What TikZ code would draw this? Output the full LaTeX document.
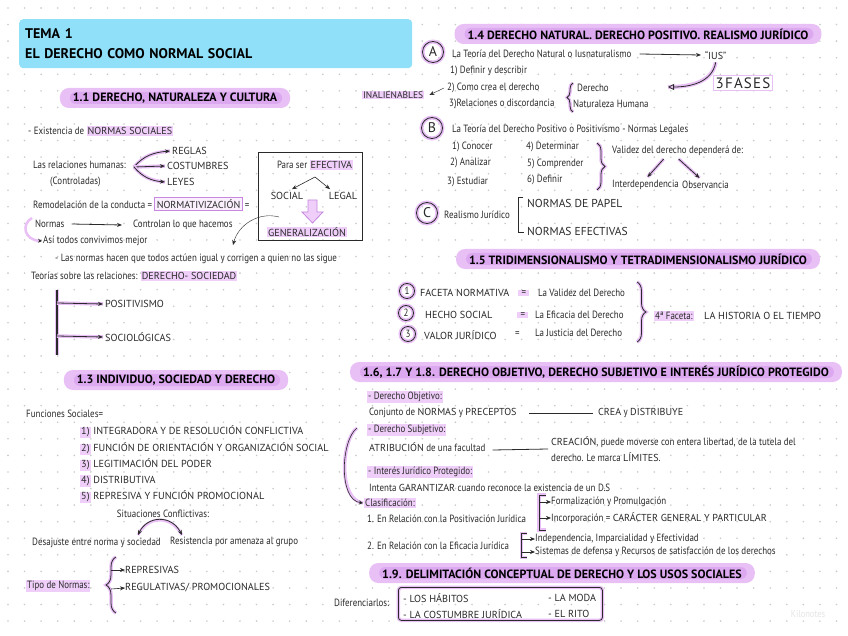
\documentclass[tikz,border=0pt]{standalone}
\usepackage{fontspec}
\setmainfont[FakeStretch=0.85]{PT Sans}
\newfontfamily\capsfont{PT Sans}
\usepackage{xcolor}
\usepackage{tikz}
\usetikzlibrary{arrows.meta,positioning,decorations.pathreplacing,calc}
\definecolor{ink}{HTML}{2A2A2A}
\definecolor{titlec}{HTML}{8FE0F8}
\definecolor{hl}{HTML}{E8C0F6}
\definecolor{hldark}{HTML}{DCA8F0}
\definecolor{hlsoft}{HTML}{EFCFF9}
\definecolor{hlpale}{HTML}{FAF0FD}
\definecolor{hlline}{HTML}{C587E0}
\definecolor{dotc}{HTML}{CACACA}
\newcommand{\fbody}{\fontsize{10.5}{12}\selectfont}
\newcommand{\fcaps}{\capsfont\fontsize{10.2}{12}\selectfont}
\newcommand{\fhead}{\capsfont\fontsize{12}{14}\selectfont\bfseries}
\newcommand{\ftitle}{\capsfont\fontsize{14}{20}\selectfont\bfseries}
\newcommand{\flett}{\capsfont\fontsize{14}{14}\selectfont}
\newcommand{\cw}[1]{{\capsfont\fontsize{10.1}{12}\selectfont #1}}
\newcommand{\hlw}[1]{\begingroup\setlength{\fboxsep}{1pt}\colorbox{hlsoft}{#1}\endgroup}
\newcommand{\boxw}[1]{\begingroup\setlength{\fboxsep}{1.5pt}\setlength{\fboxrule}{0.8pt}\fcolorbox{hlline}{hlpale}{#1}\endgroup}

\begin{document}
\begin{tikzpicture}[x=1pt,y=-1pt,font=\fbody,
  txt/.style={anchor=west,inner sep=0pt,text=ink},
  captxt/.style={txt,font=\fcaps},
  head/.style={fill=hl,rounded corners=9pt,minimum height=20pt,inner xsep=13pt,
    inner ysep=0pt,font=\fhead,text=black,
    path picture={\fill[hldark,rounded corners=6pt]
      ([xshift=10pt,yshift=-4pt]path picture bounding box.north west) rectangle
      ([xshift=-8pt,yshift=4pt]path picture bounding box.south east);}},
  arr/.style={-{Stealth[length=5pt,width=4pt]},thick,draw=ink},
  sharr/.style={arr,preaction={draw=hl,line width=3.5pt,arrows=-}},
  brc/.style={decorate,decoration={brace,amplitude=#1},thick,draw=ink,
    preaction={draw=hl,line width=3.5pt}},
  lett/.style={circle,draw=ink,thick,minimum size=21pt,inner sep=0pt,font=\flett,
    text=ink,preaction={draw=hl,line width=4pt}},
  numc/.style={lett,minimum size=15pt,font=\fbody}]

  \useasboundingbox (0,0) rectangle (848,636);
  \fill[white] (0,0) rectangle (848,636);
  % dotted paper
  \foreach \i in {0,...,50}
    \foreach \j in {0,...,37}
      {\fill[dotc] ({8+16.57*\i},{8+16.57*\j}) circle[radius=0.9pt];}

  \node (title) [fill=titlec,rounded corners=4pt,anchor=north west,minimum width=393pt,
    minimum height=49pt,text width=381pt,inner xsep=6pt,align=left,font=\ftitle,text=black]
    at (19,19) {TEMA 1\\EL DERECHO COMO NORMAL SOCIAL};

  % 1.1
  \node (h11) [head] at (175,98) {1.1 DERECHO, NATURALEZA Y CULTURA};
  \node (exist) [txt] at (28,131) {- Existencia de \hlw{\cw{NORMAS SOCIALES}}};
  \node (relh) [txt] at (33,165) {Las relaciones humanas:};
  \node (ctrl) [txt] at (50,182) {(Controladas)};
  \node (reglas) [captxt] at (172,151) {REGLAS};
  \node (costum) [captxt] at (167,166) {COSTUMBRES};
  \node (leyes) [captxt] at (167,182) {LEYES};
  \coordinate (rh) at (134,167);
  \draw[sharr] (rh) to[out=50,in=185] ([xshift=-2pt]reglas.west);
  \draw[sharr] (rh) -- ([xshift=-2pt]costum.west);
  \draw[sharr] (rh) to[out=-50,in=175] ([xshift=-2pt]leyes.west);

  \node (efbox) [draw=ink,anchor=north west,minimum width=104pt,minimum height=88pt]
    at (258,152) {};
  \node (para) [inner sep=0pt,text=ink] at (315,165) {Para ser \hlw{\cw{EFECTIVA}}};
  \node (social) [inner sep=0pt,text=ink,font=\fcaps] at (287,196) {SOCIAL};
  \node (legal) [inner sep=0pt,text=ink,font=\fcaps] at (343,196) {LEGAL};
  \coordinate (split) at (315,177);
  \draw[arr,semithick] (split) -- ([xshift=5pt,yshift=3pt]social.north);
  \draw[arr,semithick] (split) -- ([xshift=-13pt,yshift=3pt]legal.north);
  \fill[hlsoft,draw=hlline,line width=0.8pt] (308,200) -- (317,200) -- (317,212) -- (323,212)
    -- (312.5,223) -- (302,212) -- (308,212) -- cycle;
  \node (gen) [inner sep=0pt,text=ink,font=\fcaps] at (307,232) {\hlw{GENERALIZACIÓN}};

  \node (remod) [txt] at (33,204) {Remodelación de la conducta = \boxw{\cw{NORMATIVIZACIÓN}} =};
  \node (normas) [txt] at (35,224) {Normas};
  \node (contr) [txt] at (133,225) {Controlan lo que hacemos};
  \draw[arr] ([xshift=7pt]normas.east) -- ([xshift=-11pt]contr.west);
  \node (asi) [txt] at (43,241) {Así todos convivimos mejor};
  \coordinate (nloop) at (32,218);
  \draw[-{Stealth[length=4pt,width=4pt,color=ink]},draw=hl,line width=2.5pt]
    (nloop) .. controls (21,224) and (24,240) .. ([xshift=-1pt]asi.west);
  \coordinate (cfrom) at (279,217);
  \coordinate (cto) at (233,245);
  \draw[arr,thin] (cfrom) to[out=165,in=75] (cto);
  \node (lasn) [txt] at (55,259) {- Las normas hacen que todos actúen igual y corrigen a quien no las sigue};
  \node (teor) [txt] at (31,276) {Teorías sobre las relaciones: \hlw{\cw{DERECHO- SOCIEDAD}}};
  \coordinate (vtop) at (57,290);
  \coordinate (vbot) at (57,355);
  \draw[line width=2pt,ink,preaction={draw=hl,line width=4pt}] (vtop) -- (vbot);
  \node (posit) [captxt] at (105,304) {POSITIVISMO};
  \node (socio) [captxt] at (105,337) {SOCIOLÓGICAS};
  \coordinate (br1) at (57,303);
  \coordinate (br2) at (57,336);
  \draw[sharr] (br1) -- ([xshift=-2pt]posit.west);
  \draw[sharr] (br2) -- ([xshift=-2pt]socio.west);

  % 1.3
  \node (h13) [head] at (176,380) {1.3 INDIVIDUO, SOCIEDAD Y DERECHO};
  \node (func) [txt] at (26,414) {Funciones Sociales=};
  \foreach \n/\t/\y in {1/INTEGRADORA Y DE RESOLUCIÓN CONFLICTIVA/432,
      2/FUNCIÓN DE ORIENTACIÓN Y ORGANIZACIÓN SOCIAL/449,
      3/LEGITIMACIÓN DEL PODER/465, 4/DISTRIBUTIVA/481,
      5/REPRESIVA Y FUNCIÓN PROMOCIONAL/497}
    {\node (f\n) [captxt] at (80,\y) {\hlw{\n)} \t};}
  \node (sitc) [inner sep=0pt,text=ink] at (163,514) {Situaciones Conflictivas:};
  \node (desaj) [txt] at (32,543) {Desajuste entre norma y sociedad};
  \node (resist) [txt] at (170,542) {Resistencia por amenaza al grupo};
  \coordinate (al) at (138,535);
  \coordinate (ar) at (182,535);
  \draw[{Stealth[length=5pt,width=4pt]}-{Stealth[length=5pt,width=4pt]},thick,ink,
    preaction={draw=hl,line width=3pt,arrows=-}] (al) .. controls (147,516) and (171,514) .. (ar);
  \node (tipo) [txt] at (26,586) {\hlw{Tipo de Normas:}};
  \draw[brc=10pt] (116,613) -- (116,557);
  \node (repr) [captxt] at (125,570) {REPRESIVAS};
  \node (regul) [captxt] at (125,588) {REGULATIVAS/ PROMOCIONALES};
  \coordinate (t1) at (111,570);
  \coordinate (t2) at (111,589);
  \draw[arr,semithick] (t1) -- (repr.west);
  \draw[arr,semithick] (t2) -- (regul.west);

  % 1.4
  \node (h14) [head] at (638,34) {1.4 DERECHO NATURAL. DERECHO POSITIVO. REALISMO JURÍDICO};
  \node (cA) [lett] at (433,52) {A};
  \node (tA) [txt] at (452,54) {La Teoría del Derecho Natural o Iusnaturalismo};
  \node (ius) [txt] at (705,55) {“\cw{IUS}”};
  \draw[arr] ([xshift=8pt]tA.east) -- ([xshift=-4pt]ius.west);
  \node (a1) [txt] at (450,71) {1) Definir y describir};
  \node (a2) [txt] at (447,88) {2) Como crea el derecho};
  \node (a3) [txt] at (449,104) {3)Relaciones o discordancia};
  \node (inal) [txt,font=\capsfont\fontsize{9.5}{11}\selectfont] at (362,95) {\hlw{INALIENABLES}};
  \draw[arr,thin] ([xshift=-3pt]a2.west) -- ([xshift=5pt]inal.east);
  \draw[brc=6pt] (573,112) -- (573,83);
  \node (der) [txt] at (577,88) {Derecho};
  \node (nat) [txt] at (573,104) {Naturaleza Humana};
  \node (fases) [draw=hl,line width=1pt,inner sep=2pt,text=ink,
    font=\capsfont\fontsize{15}{15}\selectfont\addfontfeature{LetterSpace=8}] at (743,83) {3FASES};
  \coordinate (fasesarr) at (668,87);
  \draw[-{Triangle[open,length=6pt,width=6pt]},thick,ink,
    preaction={draw=hl,line width=4pt,arrows=-}]
    ([yshift=-3pt]ius.south) to[out=-100,in=0] (fasesarr);

  \node (cB) [lett] at (432,128) {B};
  \node (tB) [txt] at (452,130) {La Teoría del Derecho Positivo o Positivismo - Normas Legales};
  \node (b1) [txt] at (452,147) {1) Conocer};
  \node (b2) [txt] at (450,163) {2) Analizar};
  \node (b3) [txt] at (447,182) {3) Estudiar};
  \node (b4) [txt] at (526,147) {4) Determinar};
  \node (b5) [txt] at (527,164) {5) Comprender};
  \node (b6) [txt] at (527,180) {6) Definir};
  \draw[brc=8pt] (597,143) -- (597,190);
  \node (valid) [txt] at (612,151) {Validez del derecho dependerá de:};
  \node (interd) [txt] at (612,185) {Interdependencia};
  \node (observ) [txt] at (682,185) {Observancia};
  \draw[sharr] ([xshift=-14pt,yshift=-3pt]valid.south) -- ([xshift=2pt,yshift=3pt]interd.north);
  \draw[sharr] ([xshift=1pt,yshift=-3pt]valid.south) -- ([xshift=-6pt,yshift=3pt]observ.north);

  \node (cC) [lett] at (427,213) {C};
  \node (real) [txt] at (444,215) {Realismo Jurídico};
  \draw[thick,ink] (523,197) -- (518,197) -- (518,232) -- (524,232);
  \node (npap) [txt,font=\capsfont\fontsize{11.5}{14}\selectfont] at (527,203) {NORMAS DE PAPEL};
  \node (nefe) [txt,font=\capsfont\fontsize{11.5}{14}\selectfont] at (527,231) {NORMAS EFECTIVAS};

  % 1.5
  \node (h15) [head] at (638,259) {1.5 TRIDIMENSIONALISMO Y TETRADIMENSIONALISMO JURÍDICO};
  \node (n1) [numc] at (407,291) {1};
  \node (n2) [numc] at (406,313) {2};
  \node (n3) [numc] at (408,334) {3};
  \node (fn) [captxt] at (420,293) {FACETA NORMATIVA};
  \node (eq1) [txt] at (518,293) {\hlw{\ =\ }};
  \node (lv) [txt] at (538,293) {La Validez del Derecho};
  \node (hs) [captxt] at (425,315) {HECHO SOCIAL};
  \node (eq2) [txt] at (517,315) {\hlw{\ =\ }};
  \node (le) [txt] at (535,315) {La Eficacia del Derecho};
  \node (vj) [captxt] at (424,335) {VALOR JURÍDICO};
  \node (eq3) [txt] at (515,334) {=};
  \node (lj) [txt] at (535,333) {La Justicia del Derecho};
  \draw[brc=9pt] (637,282) -- (637,342);
  \node (cuarta) [txt] at (654,316) {\hlw{4ª Faceta:}};
  \node (hist) [captxt] at (704,316) {LA HISTORIA O EL TIEMPO};

  % 1.6 - 1.8
  \node (h16) [head] at (596,372) {1.6, 1.7 Y 1.8. DERECHO OBJETIVO, DERECHO SUBJETIVO E INTERÉS JURÍDICO PROTEGIDO};
  \node (dobj) [txt] at (367,397) {\hlw{- Derecho Objetivo:}};
  \node (conj) [txt] at (369,413) {Conjunto de \cw{NORMAS} y \cw{PRECEPTOS}};
  \node (crea) [txt] at (598,413) {\cw{CREA} y \cw{DISTRIBUYE}};
  \draw[thick,ink] ([xshift=12pt]conj.east) -- ([xshift=-5pt]crea.west);
  \node (dsub) [txt] at (367,430) {\hlw{- Derecho Subjetivo:}};
  \node (atrib) [txt] at (369,447) {\cw{ATRIBUCIÓN} de una facultad};
  \node (creac) [txt,align=left,font=\fontsize{10.5}{16}\selectfont] at (551,449)
    {\cw{CREACIÓN}, puede moverse con entera libertad, de la tutela del\\derecho. Le marca \cw{LÍMITES}.};
  \draw[thick,ink] ([xshift=7pt,yshift=-3pt]atrib.east) -- ([xshift=-3pt]creac.west);
  \node (dint) [txt] at (367,472) {\hlw{- Interés Jurídico Protegido:}};
  \node (intenta) [txt] at (369,488) {Intenta \cw{GARANTIZAR} cuando reconoce la existencia de un D.S};
  \node (clasif) [txt] at (364,503) {\hlw{Clasificación:}};
  \coordinate (arcs) at (357,428);
  \draw[-{Stealth[length=4pt,width=4pt]},semithick,ink,preaction={draw=hl,line width=3.5pt,arrows=-}]
    (arcs) .. controls (341,440) and (338,500) .. ([xshift=-1pt]clasif.west);
  \node (rel1) [txt] at (367,519) {1. En Relación con la Positivación Jurídica};
  \draw[thick,ink,preaction={draw=hl,line width=4pt}] (546,495) -- (539,495) -- (539,530) -- (546,530);
  \node (form) [txt] at (551,502) {Formalización y Promulgación};
  \node (incorp) [txt] at (551,518) {Incorporación = \cw{CARÁCTER GENERAL Y PARTICULAR}};
  \coordinate (c1) at (540,502);
  \coordinate (c2) at (540,518);
  \draw[arr,semithick] (c1) -- (form.west);
  \draw[arr,semithick] (c2) -- (incorp.west);
  \node (rel2) [txt] at (367,546) {2. En Relación con la Eficacia Jurídica};
  \draw[thick,ink,preaction={draw=hl,line width=3pt}] (527,533) -- (521,533) -- (521,557) -- (527,557);
  \node (indep) [txt] at (535,539) {Independencia, Imparcialidad y Efectividad};
  \node (sist) [txt] at (535,552) {Sistemas de defensa y Recursos de satisfacción de los derechos};
  \coordinate (d1) at (522,539);
  \coordinate (d2) at (522,552);
  \draw[arr,semithick] (d1) -- (indep.west);
  \draw[arr,semithick] (d2) -- (sist.west);

  % 1.9
  \node (h19) [head] at (562,573) {1.9. DELIMITACIÓN CONCEPTUAL DE DERECHO Y LOS USOS SOCIALES};
  \node (dif) [txt] at (334,603) {Diferenciarlos:};
  \node (difbox) [draw=ink,thick,rounded corners=3pt,anchor=north west,minimum width=204pt,
    minimum height=33pt,preaction={draw=hl,line width=3.5pt}] at (398,587) {};
  \node (hab) [captxt] at (403,598) {- LOS HÁBITOS};
  \node (cost) [captxt] at (403,614) {- LA COSTUMBRE JURÍDICA};
  \node (moda) [captxt] at (548,598) {- LA MODA};
  \node (rito) [captxt] at (548,614) {- EL RITO};

  \node (kilo) [text=black!10,font=\fontsize{10}{10}\selectfont] at (808,614) {Kilonotes};
\end{tikzpicture}
\end{document}
